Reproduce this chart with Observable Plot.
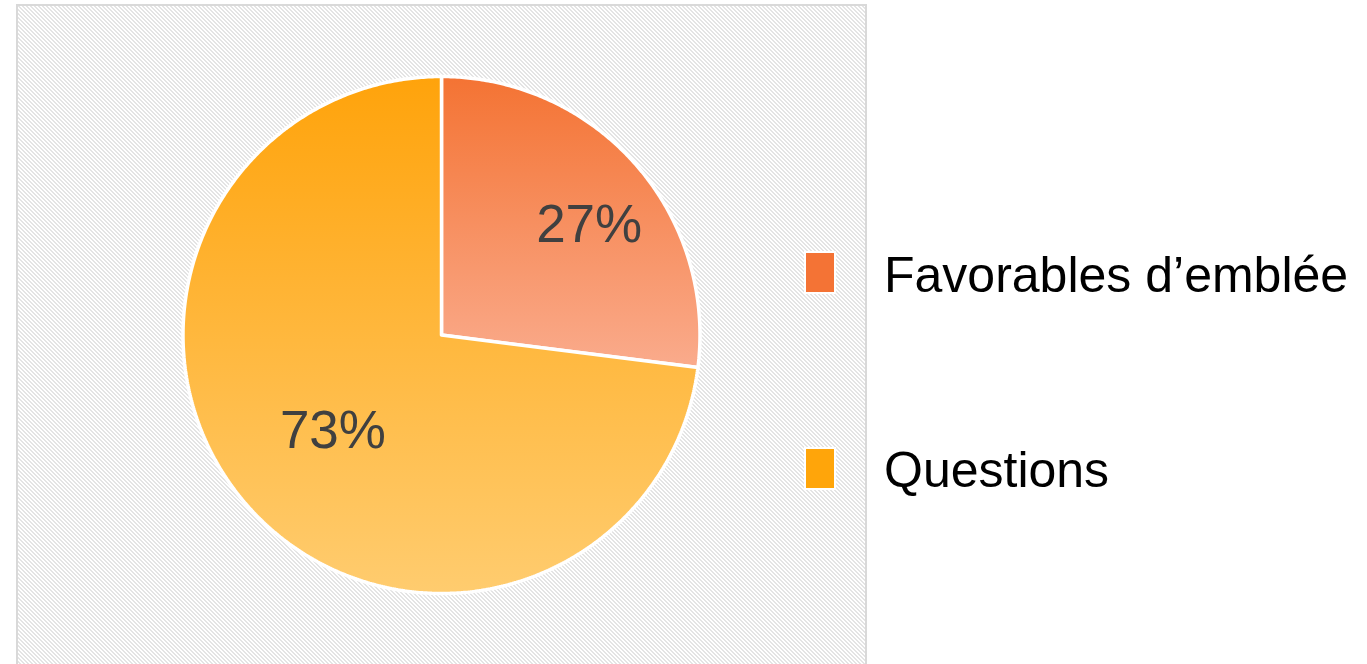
<!DOCTYPE html>
<html>
<head>
<meta charset="utf-8">
<script src="https://cdn.jsdelivr.net/npm/d3@7"></script>
<script src="https://cdn.jsdelivr.net/npm/@observablehq/plot@0.6"></script>
<style>
  html, body { margin: 0; padding: 0; background: #ffffff; }
  #wrap { position: relative; width: 1367px; height: 664px; overflow: hidden; font-family: "Liberation Sans", Arial, sans-serif; }
  .sw { position: absolute; width: 28px; height: 39px; box-shadow: 0 0 0 2px #ffffff; }
  .lt { position: absolute; font-size: 50px; line-height: 50px; color: #000000; white-space: nowrap; }
</style>
</head>
<body>
<div id="wrap"></div>
<script>
// ---- data ----
const categories = ["Favorables d\u2019emblée", "Questions"];
const values = [27, 73];
const valueLabels = ["27%", "73%"];

// ---- styles ----
const topColors = ["#F47333", "#FFA30B"];
const bottomColors = ["#FAAB8C", "#FFCC6F"];
const swatchColors = ["#F47335", "#FFA50A"];

const W = 1367, H = 664;
const cx = 441, cy = 334.5, R = 258.5;

const arcs = d3.pie().sort(null).value(d => d)(values);

// slice outlines in unit-circle coordinates (y up), angle 0 at top, clockwise
const slices = arcs.map((a, i) => {
  const pts = [{x: 0, y: 0}];
  const n = Math.max(2, Math.ceil((a.endAngle - a.startAngle) / (Math.PI / 360)));
  for (let k = 0; k <= n; k++) {
    const t = a.startAngle + (a.endAngle - a.startAngle) * k / n;
    pts.push({x: Math.sin(t), y: Math.cos(t)});
  }
  pts.push({x: 0, y: 0});
  return pts;
});

const labelData = arcs.map((a, i) => {
  const mid = (a.startAngle + a.endAngle) / 2;
  const frac = values[i] / d3.sum(values);
  const r = frac < 0.5 ? 0.71 : 0.56;
  return {x: r * Math.sin(mid), y: r * Math.cos(mid), text: valueLabels[i], small: frac < 0.5};
});

const chart = Plot.plot({
  width: W,
  height: H,
  marginLeft: cx - R,
  marginRight: W - (cx + R),
  marginTop: cy - R,
  marginBottom: H - (cy + R),
  x: {domain: [-1, 1], axis: null},
  y: {domain: [-1, 1], axis: null},
  style: {background: "transparent", fontFamily: "Liberation Sans, Arial, sans-serif"},
  marks: [
    ...slices.map((pts, i) => Plot.line(pts, {
      x: "x", y: "y",
      fill: `url(#sliceGrad${i})`,
      stroke: "#ffffff",
      strokeWidth: 3.5,
      strokeLinejoin: "miter"
    })),
    Plot.text(labelData.filter(d => d.small), {
      x: "x", y: "y", text: "text", fontSize: 53, fill: "#404040", dx: 10, dy: 11
    }),
    Plot.text(labelData.filter(d => !d.small), {
      x: "x", y: "y", text: "text", fontSize: 53, fill: "#404040"
    })
  ]
});

// decorations: gradients, hatched plot-area background
const svg = d3.select(chart);
svg.insert("rect", ":first-child")
  .attr("x", 17).attr("y", 5).attr("width", 849).attr("height", 720)
  .attr("fill", "url(#hatch)").attr("stroke", "#d9d9d9").attr("stroke-width", 2);
const defs = svg.insert("defs", ":first-child");
const pat = defs.append("pattern").attr("id", "hatch")
  .attr("patternUnits", "userSpaceOnUse").attr("x", 0).attr("y", 0)
  .attr("width", 4).attr("height", 4);
pat.append("rect").attr("width", 4).attr("height", 4).attr("fill", "#ffffff");
for (let r = 0; r < 4; r++) {
  for (const c of [r, (r + 1) % 4]) {
    pat.append("rect").attr("x", c).attr("y", r).attr("width", 1).attr("height", 1).attr("fill", "#e4e4e4");
  }
}
arcs.forEach((a, i) => {
  const g = defs.append("linearGradient").attr("id", `sliceGrad${i}`)
    .attr("x1", 0).attr("y1", 0).attr("x2", 0).attr("y2", 1);
  g.append("stop").attr("offset", "0%").attr("stop-color", topColors[i]);
  g.append("stop").attr("offset", "100%").attr("stop-color", bottomColors[i]);
});

const wrap = document.getElementById("wrap");
wrap.appendChild(chart);

// legend (to the right of the plot area)
categories.forEach((c, i) => {
  const sw = document.createElement("div");
  sw.className = "sw";
  sw.style.left = "806px";
  sw.style.top = (253 + i * 196) + "px";
  sw.style.background = swatchColors[i];
  wrap.appendChild(sw);
  const t = document.createElement("div");
  t.className = "lt";
  t.style.left = "884px";
  t.style.top = (250 + i * 195) + "px";
  t.textContent = c;
  wrap.appendChild(t);
});
</script>
</body>
</html>
